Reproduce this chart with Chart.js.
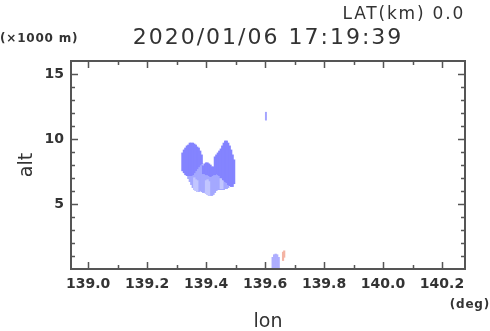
<!DOCTYPE html>
<html>
<head>
<meta charset="utf-8">
<script src="https://cdn.jsdelivr.net/npm/chart.js@4/dist/chart.umd.min.js"></script>
<style>
  body { margin: 0; background: #fff; }
  canvas { display: block; }
</style>
</head>
<body>
<canvas id="crossChart" width="490" height="331"></canvas>
<script>
// Echo cross-section data (lon in deg, alt in km)

const lonCols = [139.32, 139.325, 139.33, 139.335, 139.34, 139.345, 139.35, 139.355, 139.36,
                 139.365, 139.37, 139.375, 139.38, 139.385, 139.39, 139.395, 139.40, 139.405,
                 139.41, 139.415, 139.42, 139.425, 139.43, 139.435, 139.44, 139.445, 139.45,
                 139.455, 139.46, 139.465, 139.47, 139.475, 139.48, 139.485, 139.49, 139.495];

// strong echo (upper cores)
const darkLo = [7.55, 7.4, 7.25, 7.18, 7.18, 7.18, 7.18, 7.25, 7.4, 7.56, 7.71, 7.86, 8.0, 8.1,
                7.33, 7.33, 7.25, 7.25, 7.18, 7.1, 7.18, 7.25, 7.25, 7.33, 7.25, 7.18, 7.02,
                6.87, 6.8, 6.72, 6.64, 6.49, 6.41, 6.34, 6.34, 6.56];
const darkHi = [8.93, 9.16, 9.31, 9.47, 9.54, 9.69, 9.69, 9.69, 9.62, 9.54, 9.39, 9.31, 9.08, 8.78,
                7.94, 8.09, 8.17, 8.17, 8.09, 8.0, 7.86, 7.86, 8.63, 8.78, 8.93, 9.08, 9.24,
                9.47, 9.69, 9.85, 9.85, 9.69, 9.47, 9.16, 8.78, 8.4];

// weaker echo (lower part)
const midLo = [null, null, null, null, 6.95, 6.72, 6.49, 6.26, 6.1, 6.03, 5.95, 5.95, 6.03, 5.95,
               5.88, 5.88, 5.8, 5.73, 5.65, 5.65, 5.65, 5.73, 5.88, 6.03, 6.1, 6.1, 6.1,
               6.1, 6.1, 6.18, 6.18, 6.26, null, null, null, null];
const midHi = [null, null, null, null, 7.18, 7.18, 7.18, 7.25, 7.4, 7.56, 7.71, 7.86, 8.0, 8.1,
               7.33, 7.33, 7.25, 7.25, 7.18, 7.1, 7.18, 7.25, 7.25, 7.33, 7.25, 7.18, 7.02,
               6.87, 6.8, 6.72, 6.64, 6.49, null, null, null, null];

// weakest streaks inside the lower part
const lightLo = [null, null, null, null, null, null, null, null, 6.1, 6.03, 5.95, null, null, null,
                 null, null, 5.8, 5.73, 5.65, null, null, null, null, null, null, null, 6.18,
                 6.18, null, null, null, null, null, null, null, null];
const lightHi = [null, null, null, null, null, null, null, null, 7.02, 6.87, 6.8, null, null, null,
                 null, null, 6.8, 6.87, 6.72, null, null, null, null, null, null, null, 6.95,
                 6.8, null, null, null, null, null, null, null, null];

// isolated small echoes
const lineLon = [139.603];
const lineLo = [11.45];
const lineHi = [12.06];

const groundLon = [139.626, 139.631, 139.636, 139.641, 139.646];
const groundLo = [0.1, 0.02, 0.0, 0.02, 0.1];
const groundHi = [0.9, 1.1, 1.15, 1.1, 0.9];

const warmLon = [139.661, 139.665];
const warmLo = [0.65, 0.9];
const warmHi = [1.3, 1.4];

const xTicks = [139.0, 139.2, 139.4, 139.6, 139.8, 140.0, 140.2];
const yTicks = [5, 10, 15];
const xRange = [138.942, 140.278];
const yRange = [0, 16];

function columns(lons, lo, hi) {
    const out = [];
    lons.forEach((lon, i) => {
        if (lo[i] !== null && hi[i] !== null) out.push({ x: lon, y: [lo[i], hi[i]] });
    });
    return out;
}

const frameTicks = {
    id: 'frameTicks',
    afterDatasetsDraw(chart) {
        const { ctx, chartArea: a, scales } = chart;
        ctx.save();
        ctx.strokeStyle = '#555';
        ctx.lineWidth = 1.5;
        // x ticks every 0.1, longer every 0.2
        for (let k = 0; k <= 12; k++) {
            const v = 139 + k * 0.1;
            const px = Math.round(scales.x.getPixelForValue(v)) + 0.5;
            const len = k % 2 === 0 ? 7 : 4;
            ctx.beginPath();
            ctx.moveTo(px, a.bottom); ctx.lineTo(px, a.bottom - len);
            ctx.moveTo(px, a.top); ctx.lineTo(px, a.top + len);
            ctx.stroke();
        }
        // y ticks every 1, longer every 5
        for (let v = 1; v <= 15; v++) {
            const py = Math.round(scales.y.getPixelForValue(v)) + 0.5;
            const len = v % 5 === 0 ? 7 : 4;
            ctx.beginPath();
            ctx.moveTo(a.left, py); ctx.lineTo(a.left + len, py);
            ctx.moveTo(a.right, py); ctx.lineTo(a.right - len, py);
            ctx.stroke();
        }
        ctx.lineWidth = 2;
        ctx.strokeRect(a.left, a.top, a.right - a.left, a.bottom - a.top);
        ctx.restore();
    }
};

const labels = {
    id: 'labels',
    afterDraw(chart) {
        const ctx = chart.ctx;
        ctx.save();
        ctx.fillStyle = '#333';
        ctx.textBaseline = 'middle';

        ctx.textAlign = 'right';
        ctx.font = '17px "DejaVu Sans"';
        ctx.letterSpacing = '1.8px';
        ctx.fillText('LAT(km) 0.0', 465, 15);

        ctx.textAlign = 'center';
        ctx.font = '22px "DejaVu Sans"';
        ctx.letterSpacing = '2px';
        ctx.fillText('2020/01/06 17:19:39', 268, 38);

        ctx.letterSpacing = '0.8px';
        ctx.font = 'bold 12px "DejaVu Sans"';
        ctx.textAlign = 'left';
        ctx.fillText('(\u00d71000 m)', 0, 39);
        ctx.textAlign = 'right';
        ctx.fillText('(deg)', 490, 305);

        ctx.letterSpacing = '0px';
        ctx.font = '19px "DejaVu Sans"';
        ctx.textAlign = 'center';
        ctx.fillText('lon', 268, 322);

        ctx.translate(27, 165);
        ctx.rotate(-Math.PI / 2);
        ctx.fillText('alt', 0, 0);
        ctx.restore();
    }
};

const ctx = document.getElementById('crossChart').getContext('2d');
new Chart(ctx, {
    type: 'bar',
    data: {
        datasets: [
            { data: columns(lineLon, lineLo, lineHi), backgroundColor: '#a4a4ff', barThickness: 1.3 },
            { data: columns(groundLon, groundLo, groundHi), backgroundColor: '#aeaeff', barThickness: 1.7 },
            { data: columns(warmLon, warmLo, warmHi), backgroundColor: '#f4b4a4', barThickness: 1.5 },
            { data: columns(lonCols, lightLo, lightHi), backgroundColor: '#c2c6ff', barThickness: 1.7 },
            { data: columns(lonCols, darkLo, darkHi), backgroundColor: '#8484ff', barThickness: 1.7 },
            { data: columns(lonCols, midLo, midHi), backgroundColor: '#a4a8ff', barThickness: 1.7 }
        ]
    },
    options: {
        responsive: false,
        animation: false,
        devicePixelRatio: 1,
        grouped: false,
        borderWidth: 0,
        layout: { padding: { left: 0, right: 25, top: 61, bottom: 0 } },
        plugins: {
            legend: { display: false },
            tooltip: { enabled: false }
        },
        scales: {
            x: {
                type: 'linear',
                min: xRange[0],
                max: xRange[1],
                offset: false,
                grid: { display: false, drawTicks: false },
                border: { display: false },
                afterBuildTicks: scale => { scale.ticks = xTicks.map(v => ({ value: v })); },
                afterFit: scale => { scale.height = 62; },
                ticks: {
                    padding: 7,
                    maxRotation: 0,
                    autoSkip: false,
                    color: '#333',
                    font: { family: 'DejaVu Sans', size: 14, weight: 'bold' },
                    callback: v => v.toFixed(1)
                }
            },
            y: {
                min: yRange[0],
                max: yRange[1],
                grid: { display: false, drawTicks: false },
                border: { display: false },
                afterBuildTicks: scale => { scale.ticks = yTicks.map(v => ({ value: v })); },
                afterFit: scale => { scale.width = 71; },
                ticks: {
                    padding: 7,
                    color: '#333',
                    font: { family: 'DejaVu Sans', size: 14, weight: 'bold' },
                    callback: v => String(v)
                }
            }
        }
    },
    plugins: [frameTicks, labels]
});
</script>
</body>
</html>
